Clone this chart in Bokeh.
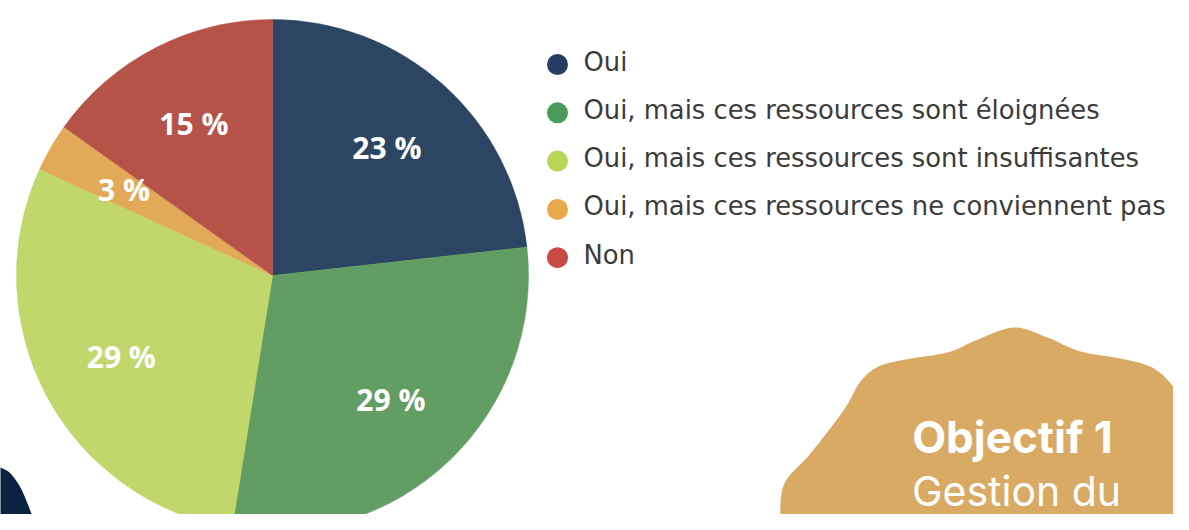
import math
from bokeh.plotting import figure
from bokeh.models import Range1d, ColumnDataSource
from bokeh.core.properties import value
from bokeh.embed import file_html
from bokeh.resources import INLINE

# ---- data ----
categories = [
    "Oui",
    "Oui, mais ces ressources sont éloignées",
    "Oui, mais ces ressources sont insuffisantes",
    "Oui, mais ces ressources ne conviennent pas",
    "Non",
]
percent = [23, 29, 29, 3, 15]
slice_colors = ["#2c4563", "#629e63", "#c1d66b", "#e2aa58", "#b65349"]
legend_colors = ["#243f62", "#4a9a5a", "#b9d657", "#e8a94a", "#c84a42"]
badge_title = "Objectif 1"
badge_sub = "Gestion du"

# ---- canvas: data units == pixels of the screenshot, y measured upward ----
W, H = 1173, 514
def up(y_img):
    return H - y_img

p = figure(width=W, height=H, x_range=Range1d(0, W), y_range=Range1d(0, H),
           output_backend="svg", toolbar_location=None, min_border=0,
           background_fill_color="white", border_fill_color="white")
p.axis.visible = False
p.grid.visible = False
p.outline_line_color = None

# ---- decorations ----
def smooth(pts, n=8):
    out = []
    m = len(pts)
    for i in range(m - 1):
        p0 = pts[max(i - 1, 0)]; p1 = pts[i]; p2 = pts[i + 1]; p3 = pts[min(i + 2, m - 1)]
        for k in range(n):
            t = k / n
            t2, t3 = t * t, t * t * t
            x = 0.5 * ((2 * p1[0]) + (-p0[0] + p2[0]) * t + (2 * p0[0] - 5 * p1[0] + 4 * p2[0] - p3[0]) * t2 + (-p0[0] + 3 * p1[0] - 3 * p2[0] + p3[0]) * t3)
            y = 0.5 * ((2 * p1[1]) + (-p0[1] + p2[1]) * t + (2 * p0[1] - 5 * p1[1] + 4 * p2[1] - p3[1]) * t2 + (-p0[1] + 3 * p1[1] - 3 * p2[1] + p3[1]) * t3)
            out.append((x, y))
    out.append(pts[-1])
    return out

blob_outline = [(780, 545), (780, 530), (783, 485), (810, 453), (843, 410), (860, 381), (878, 366),
                (905, 359), (947, 352), (975, 340), (1013, 327), (1047, 337), (1080, 351),
                (1125, 359), (1155, 369), (1177, 392), (1195, 425), (1200, 545)]
bp = smooth(blob_outline)
p.patch([q[0] for q in bp], [up(q[1]) for q in bp], fill_color="#d8aa63", line_color=None)

navy_outline = [(-5, 466), (0, 467), (10, 473), (20, 487), (27, 503), (33, 517), (43, 530), (50, 545)]
npnts = smooth(navy_outline)
p.patch([q[0] for q in npnts] + [-5], [up(q[1]) for q in npnts] + [up(545)],
        fill_color="#0b2341", line_color=None)

# ---- pie ----
cx, cy, R = 272, up(275), 256
total = float(sum(percent))
starts, ends, mids = [], [], []
acc = 0.0
for v in percent:
    a0 = acc / total
    acc += v
    a1 = acc / total
    starts.append(math.pi / 2 - 2 * math.pi * a0)
    ends.append(math.pi / 2 - 2 * math.pi * a1)
    mids.append(math.pi / 2 - 2 * math.pi * (a0 + a1) / 2)

src = ColumnDataSource(dict(start=starts, end=ends, color=slice_colors))
p.wedge(x=cx, y=cy, radius=R, start_angle="start", end_angle="end", direction="clock",
        fill_color="color", line_color="color", line_width=0.5, source=src)

lr = 0.67 * R
lab = ColumnDataSource(dict(
    x=[cx + lr * math.cos(m) for m in mids],
    y=[cy + lr * math.sin(m) for m in mids],
    t=[f"{v} %" for v in percent],
))
p.text(x="x", y="y", text="t", source=lab, text_align="center", text_baseline="middle",
       text_color="white", text_font=value("Open Sans"), text_font_style="bold",
       text_font_size=value("30px"))

# ---- legend ----
lx_marker, lx_text = 557, 583
row0, step = 61, 48.3
leg = ColumnDataSource(dict(
    mx=[lx_marker] * len(categories),
    my=[up(row0 + 3 + i * step) for i in range(len(categories))],
    tx=[lx_text] * len(categories),
    ty=[up(row0 + i * step) for i in range(len(categories))],
    label=categories,
    color=legend_colors,
))
p.scatter(x="mx", y="my", marker="circle", size=21, fill_color="color", line_color=None, source=leg)
p.text(x="tx", y="ty", text="label", source=leg, text_align="left", text_baseline="middle",
       text_color="#3b3b3b", text_font=value("DejaVu Sans"), text_font_size=value("25.8px"))

# ---- badge text ----
p.text(x=[1012], y=[up(436)], text=[badge_title], text_align="center", text_baseline="middle",
       text_color="white", text_font=value("Inter"), text_font_style="bold",
       text_font_size=value("44px"))
p.text(x=[1016], y=[up(490)], text=[badge_sub], text_align="center", text_baseline="middle",
       text_color="white", text_font=value("Inter"), text_font_size=value("41px"))

open("out.html", "w").write(file_html(p, INLINE))
